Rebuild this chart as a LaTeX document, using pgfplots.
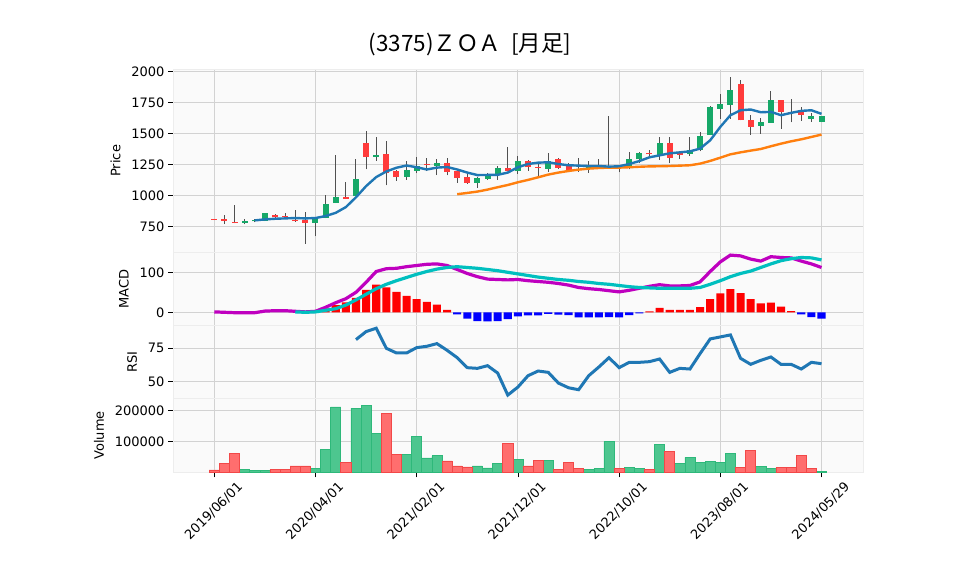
\documentclass[border=0pt]{standalone}
\usepackage{pgfplots}
\pgfplotsset{compat=1.18}
\usepackage{pgfplotstable}
\usepackage{fontspec}
\setmainfont{DejaVu Sans}
\newfontfamily\jp{Noto Sans CJK JP}

\definecolor{candleup}{RGB}{22,168,104}
\definecolor{candledn}{RGB}{255,59,59}
\definecolor{wick}{RGB}{80,80,80}
\definecolor{volup}{RGB}{77,198,143}
\definecolor{volupedge}{RGB}{46,184,122}
\definecolor{voldn}{RGB}{255,110,110}
\definecolor{voldnedge}{RGB}{242,72,72}
\definecolor{tabblue}{RGB}{31,119,180}
\definecolor{taborange}{RGB}{255,127,14}
\definecolor{macdm}{RGB}{191,0,191}
\definecolor{macdc}{RGB}{0,191,191}
\definecolor{panelbg}{RGB}{250,250,250}
\definecolor{gridc}{RGB}{210,210,210}

% monthly candles: index, open, high, low, close
\pgfplotstableread{
i o h l c
3 782 812 769 795
4 793 814 785 802
5 798 862 795 857
10 780 830 672 828
11 823 1008 820 935
12 941 1328 940 987
14 997 1298 997 1131
16 1312 1476 1280 1325
19 1151 1283 1127 1210
20 1200 1315 1180 1236
22 1239 1298 1166 1260
26 1103 1150 1062 1140
27 1135 1185 1130 1175
28 1163 1242 1130 1220
30 1195 1322 1178 1278
33 1215 1341 1194 1279
37 1220 1279 1186 1226
38 1221 1296 1216 1234
41 1234 1352 1212 1296
42 1293 1352 1261 1347
44 1325 1473 1290 1425
47 1333 1473 1323 1371
48 1366 1516 1357 1478
49 1487 1720 1487 1715
50 1702 1817 1621 1739
51 1731 1952 1618 1849
54 1562 1629 1500 1591
55 1586 1844 1586 1768
59 1618 1668 1596 1640
60 1594 1642 1592 1640
}\upcandles

\pgfplotstableread{
i o h l c
0 810 815 803 807
1 811 841 770 797
2 788 921 777 783
6 844 852 822 825
7 828 857 809 826
8 804 884 790 796
9 804 865 611 782
13 986 1110 972 973
15 1428 1521 1211 1312
17 1332 1442 1082 1184
18 1195 1210 1120 1150
21 1253 1305 1198 1246
23 1260 1306 1164 1191
24 1196 1210 1104 1143
25 1150 1176 1097 1103
29 1221 1395 1200 1200
31 1278 1291 1200 1230
32 1232 1271 1153 1227
34 1296 1304 1215 1226
35 1239 1266 1188 1204
36 1216 1301 1194 1210
39 1240 1641 1231 1232
40 1239 1240 1188 1229
43 1346 1368 1312 1332
45 1425 1473 1261 1304
46 1341 1347 1296 1328
52 1898 1930 1607 1607
53 1613 1653 1492 1554
56 1769 1769 1540 1675
57 1672 1780 1590 1665
58 1694 1718 1604 1650
}\dncandles

\pgfplotstableread{
i v
4 801
5 809
6 814
7 817
8 820
9 817
10 820
11 836
12 862
13 908
14 987
15 1077
16 1150
17 1195
18 1225
19 1243
20 1229
21 1211
22 1226
23 1231
24 1211
25 1186
26 1166
27 1167
28 1168
29 1186
30 1229
31 1255
32 1266
33 1269
34 1255
35 1245
36 1242
37 1239
38 1239
39 1234
40 1237
41 1255
42 1279
43 1309
44 1325
45 1341
46 1349
47 1357
48 1379
49 1446
50 1554
51 1648
52 1688
53 1694
54 1672
55 1675
56 1648
57 1667
58 1683
59 1688
60 1659
}\mashort

\pgfplotstableread{
i v
24 1012
25 1022
26 1033
27 1049
28 1068
29 1086
30 1108
31 1127
32 1148
33 1170
34 1186
35 1199
36 1210
37 1218
38 1223
39 1226
40 1226
41 1229
42 1233
43 1236
44 1237
45 1239
46 1242
47 1245
48 1258
49 1280
50 1306
51 1333
52 1349
53 1363
54 1376
55 1398
56 1419
57 1438
58 1454
59 1473
60 1492
}\malong

\pgfplotstableread{
i v
0 1
1 0
2 -1
3 -1
4 -1
5 3
6 4
7 4
8 2.5
9 1
10 2.5
11 12.5
12 24
13 34
14 50
15 75
16 102
17 109
18 110
19 114
20 117
21 120
22 121
23 117
24 107
25 97
26 89
27 83
28 82
29 81
30 82
31 79
32 77
33 75
34 72
35 68
36 62
37 59
38 57
39 54
40 51
41 55
42 60
43 65
44 69
45 66
46 66
47 67
48 76
49 102
50 126
51 143
52 141
53 133
54 128
55 139
56 137
57 136
58 128
59 121
60 112
}\macdline

\pgfplotstableread{
i v
8 1
9 0
10 1
11 5
12 9
13 18
14 31
15 45
16 59
17 70
18 79
19 87
20 95
21 102
22 108
23 112
24 114
25 112
26 110
27 107
28 104
29 100
30 96
31 92
32 88
33 85
34 82
35 80
36 77
37 75
38 72
39 70
40 67
41 64
42 62
43 61
44 60
45 60
46 60
47 60
48 62
49 70
50 79
51 89
52 97
53 103
54 112
55 121
56 129
57 134
58 137
59 136
60 131
}\signal

\pgfplotstableread{
i v
10 2
11 10
12 18
13 25
14 36
15 56
16 69
17 62
18 51
19 41
20 33
21 26
22 19
23 6
43 2.5
44 11
45 6
46 6
47 6
48 13
49 33
50 47
51 58
52 48
53 33
54 22
55 24
56 14
57 3
}\histpos

\pgfplotstableread{
i v
24 -5
25 -16
26 -22
27 -23
28 -22
29 -17
30 -10
31 -8
32 -8
33 -4
34 -6
35 -7
36 -13
37 -13
38 -13
39 -12
40 -13
41 -7
42 -2.5
58 -5
59 -12
60 -16
}\histneg

\pgfplotstableread{
i v
14 81.5
15 87.5
16 90
17 75
18 71.5
19 71.5
20 75.5
21 76.5
22 78.5
23 73.5
24 68
25 60.5
26 60
27 62
28 56.5
29 40
30 46
31 54.5
32 58
33 57
34 49
35 45.5
36 44
37 54.5
38 61
39 68
40 60.5
41 64.5
42 64.5
43 65
44 67
45 57
46 60
47 59.5
48 71
49 82
50 83.5
51 85
52 67.5
53 63
54 66
55 68.5
56 63
57 63
58 59.5
59 64.5
60 63.5
}\rsi

\pgfplotstableread{
i v
3 8700
4 5400
5 5400
10 12000
11 74000
12 211000
14 206500
15 217000
16 126000
19 57600
20 115000
21 46700
22 53300
26 20700
27 14100
28 28300
30 41300
33 38000
37 8700
38 12000
39 100000
41 15200
42 12000
44 90000
46 28300
47 47800
48 31500
49 34800
50 31500
51 60900
54 18500
55 12000
60 2000
}\volup

\pgfplotstableread{
i v
0 7600
1 28000
2 61000
6 8700
7 8700
8 20600
9 20600
13 31500
17 190000
18 57600
23 37000
24 20700
25 17400
29 93500
31 20700
32 38000
34 8700
35 31500
36 12000
40 12000
43 8700
45 67400
52 15200
53 70700
56 15200
57 15200
58 54300
59 12000
}\voldn

\pgfplotsset{
  panel/.style={
    anchor=south west,
    scale only axis, width=690pt,
    xmin=-4.08, xmax=64.1,
    axis background/.style={fill=panelbg},
    axis line style={draw=black!7},
    xtick={0,10,...,60},
    xmajorgrids, ymajorgrids,
    major grid style={draw=gridc, line width=0.9pt},
    tick align=outside, ytick pos=left, xtick pos=bottom,
    major tick length=5pt,
    tick style={black, line width=0.8pt},
    tick label style={font=\fontsize{13}{15}\selectfont},
    label style={font=\fontsize{13}{15}\selectfont},
    ylabel shift=4pt,
    /pgf/number format/assume math mode=true,
    /pgf/number format/1000 sep={},
    scaled y ticks=false,
  },
  upper/.style={panel, xticklabels={}, x tick style={draw=none}},
  candle/.style 2 args={draw=none, mark=none, forget plot,
    error bars/.cd, y dir=plus, y explicit, error mark=none,
    error bar style={draw=#1, line width=#2}, /pgfplots/.cd},
}

\begin{document}
\begin{tikzpicture}
\useasboundingbox (0,0) rectangle (958pt,575pt);
\node[font=\jp\fontsize{22.5}{26}\selectfont] at (470pt,530pt) {(3375)ＺＯＡ\ \ [月足]};

% price panel
\begin{axis}[upper, at={(173pt,322.7pt)}, height=183pt,
  ymin=544, ymax=2018, ytick={750,1000,...,2000}, ylabel={Price}]
\addplot[candle={wick}{1pt}]
  table[x=i, y=l, y error expr=\thisrow{h}-\thisrow{l}] {\upcandles};
\addplot[candle={wick}{1pt}]
  table[x=i, y=l, y error expr=\thisrow{h}-\thisrow{l}] {\dncandles};
\addplot[candle={candleup}{6pt}]
  table[x=i, y=o, y error expr={max(\thisrow{c}-\thisrow{o},8)}] {\upcandles};
\addplot[candle={candledn}{6pt}]
  table[x=i, y=c, y error expr={max(\thisrow{o}-\thisrow{c},8)}] {\dncandles};
\addplot[no marks, taborange, line width=2.4pt] table[x=i, y=v] {\malong};
\addplot[no marks, tabblue, line width=2.4pt] table[x=i, y=v] {\mashort};
\end{axis}

% MACD panel
\begin{axis}[upper, at={(173pt,249.3pt)}, height=73.4pt,
  ymin=-33.5, ymax=150, ytick={0,100}, ylabel={MACD},
  ybar, bar width=0.8, bar shift=0pt]
\addplot[fill=red, draw=none] table[x=i, y=v] {\histpos};
\addplot[fill=blue, draw=none] table[x=i, y=v] {\histneg};
\addplot[sharp plot, no marks, macdm, line width=3.2pt] table[x=i, y=v] {\macdline};
\addplot[sharp plot, no marks, macdc, line width=3.2pt] table[x=i, y=v] {\signal};
\end{axis}

% RSI panel
\begin{axis}[upper, at={(173pt,176.7pt)}, height=72.6pt,
  ymin=37.6, ymax=91.9, ytick={50,75}, ylabel={RSI}]
\addplot[no marks, tabblue, line width=3pt] table[x=i, y=v] {\rsi};
\end{axis}

% volume panel
\begin{axis}[panel, at={(173pt,102.7pt)}, height=74pt,
  ymin=0, ymax=239000, ytick={100000,200000}, yticklabels={100000,200000},
  ylabel={Volume},
  xticklabels={2019/06/01,2020/04/01,2021/02/01,2021/12/01,2022/10/01,2023/08/01,2024/05/29},
  xticklabel style={inner sep=0pt, xshift=22pt, yshift=-3pt, rotate=45, anchor=north east},
  ybar, bar width=1, bar shift=0pt]
\addplot[fill=volup, draw=volupedge, line width=0.6pt] table[x=i, y=v] {\volup};
\addplot[fill=voldn, draw=voldnedge, line width=0.6pt] table[x=i, y=v] {\voldn};
\end{axis}
\end{tikzpicture}
\end{document}
